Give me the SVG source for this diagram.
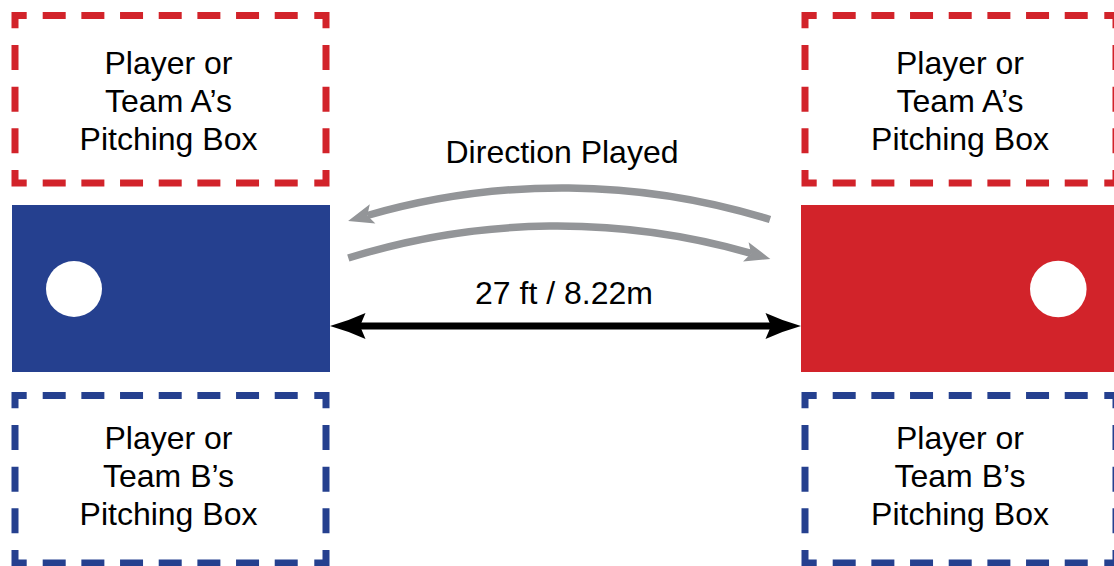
<svg xmlns="http://www.w3.org/2000/svg" xmlns:xlink="http://www.w3.org/1999/xlink" width="1114" height="566" viewBox="0 0 1114 566">
  <style>
    .lbl { font-family: "Liberation Sans", Arial, sans-serif; font-size: 32px; fill: #000; text-anchor: middle; }
    .frame { fill: none; stroke-width: 7; stroke-linecap: butt; stroke-linejoin: miter; }
    .red { stroke: #d2232a; }
    .blue { stroke: #25408f; }
    .arc { fill: none; stroke: #939598; stroke-width: 7.5; }
    .dist { fill: none; stroke: #000; stroke-width: 7; }
  </style>
  <defs>
    <g id="frame">
      <path d="M15,28.3 V15.5 H26.7 M314.3,15.5 H326 V28.3 M15,170 V183 H26.7 M314.3,183 H326 V170"/>
      <path d="M42.7,15.5 H298.7 M42.7,183 H298.7" stroke-dasharray="23 15.67"/>
      <path d="M15,45 V153.3 M326,45 V153.3" stroke-dasharray="25 16.67"/>
    </g>
    <marker id="grayHead" markerUnits="userSpaceOnUse" markerWidth="40" markerHeight="40" refX="0" refY="0" orient="auto" overflow="visible">
      <path d="M20,0 L-5.5,-10 L0,0 L-5.5,10 Z" fill="#939598"/>
    </marker>
    <marker id="blackHead" markerUnits="userSpaceOnUse" markerWidth="50" markerHeight="50" refX="0" refY="0" orient="auto-start-reverse" overflow="visible">
      <path d="M30,0 Q12,-5 -5.5,-13 L0,0 L-5.5,13 Q12,5 30,0 Z" fill="#000"/>
    </marker>
  </defs>

  <g id="box-a-left">
    <use xlink:href="#frame" href="#frame" class="frame red"/>
    <text class="lbl" x="168.5" y="74">Player or</text>
    <text class="lbl" x="168.5" y="112">Team A’s</text>
    <text class="lbl" x="168.5" y="150">Pitching Box</text>
  </g>

  <g id="box-a-right">
    <use xlink:href="#frame" href="#frame" class="frame red" transform="translate(790,0)"/>
    <text class="lbl" x="960" y="74">Player or</text>
    <text class="lbl" x="960" y="112">Team A’s</text>
    <text class="lbl" x="960" y="150">Pitching Box</text>
  </g>

  <g id="box-b-left">
    <use xlink:href="#frame" href="#frame" class="frame blue" transform="translate(0,380)"/>
    <text class="lbl" x="168.5" y="448.5">Player or</text>
    <text class="lbl" x="168.5" y="487">Team B’s</text>
    <text class="lbl" x="168.5" y="525">Pitching Box</text>
  </g>

  <g id="box-b-right">
    <use xlink:href="#frame" href="#frame" class="frame blue" transform="translate(790,380)"/>
    <text class="lbl" x="960" y="448.5">Player or</text>
    <text class="lbl" x="960" y="487">Team B’s</text>
    <text class="lbl" x="960" y="525">Pitching Box</text>
  </g>

  <g id="board-blue">
    <rect x="12" y="205" width="318" height="167" fill="#25408f"/>
    <circle cx="74" cy="289" r="28" fill="#fff"/>
  </g>

  <g id="board-red">
    <rect x="801" y="205" width="320" height="167" fill="#d2232a"/>
    <circle cx="1058.3" cy="289" r="28.3" fill="#fff"/>
  </g>

  <g id="connectors">
    <path class="arc" d="M770,219.5 A700,700 0 0 0 367.3,215.5" marker-end="url(#grayHead)"/>
    <path class="arc" d="M348.3,258 A700,700 0 0 1 751.1,253.4" marker-end="url(#grayHead)"/>
    <path class="dist" d="M360,326 H771" marker-start="url(#blackHead)" marker-end="url(#blackHead)"/>
    <text class="lbl" x="562" y="163">Direction Played</text>
    <text class="lbl" x="564" y="303.5">27 ft / 8.22m</text>
  </g>
</svg>
